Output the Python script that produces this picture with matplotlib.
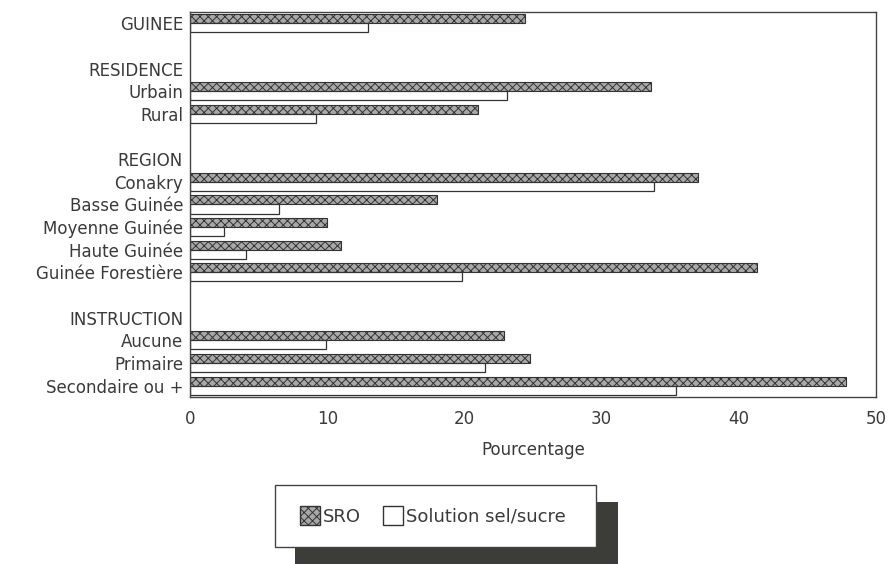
import matplotlib
matplotlib.use('Agg')
import matplotlib.pyplot as plt
from matplotlib.patches import Rectangle, Patch

plt.rcParams['font.family'] = ['DejaVu Sans']
plt.rcParams['hatch.linewidth'] = 0.7

# rows of the chart, top to bottom ("" = blank spacer row, headings have no bars)
labels = ["GUINEE", "", "RESIDENCE", "Urbain", "Rural", "", "REGION",
          "Conakry", "Basse Guinée", "Moyenne Guinée", "Haute Guinée",
          "Guinée Forestière", "", "INSTRUCTION", "Aucune", "Primaire",
          "Secondaire ou +"]
sro = [24.4, None, None, 33.6, 21.0, None, None,
       37.0, 18.0, 10.0, 11.0, 41.3, None, None, 22.9, 24.8, 47.8]
sel_sucre = [13.0, None, None, 23.1, 9.2, None, None,
             33.8, 6.5, 2.5, 4.1, 19.8, None, None, 9.9, 21.5, 35.4]
xticks = [0, 10, 20, 30, 40, 50]

text_col = '#3a3a3a'
fs = 12

fig = plt.figure(figsize=(8.88, 5.64), dpi=100)
ax = fig.add_axes([190 / 888, 1 - 397 / 564, 686 / 888, 385 / 564])

h = 0.4
for i, (a, b) in enumerate(zip(sro, sel_sucre)):
    if a is not None:
        ax.barh(i - h / 2, a, height=h, facecolor='#a8a8a8', edgecolor='#333333',
                hatch='xxxx', linewidth=0.8)
    if b is not None:
        ax.barh(i + h / 2, b, height=h, facecolor='white', edgecolor='#333333',
                linewidth=0.9)

ax.set_xlim(0, 50)
ax.set_ylim(len(labels) - 0.5, -0.5)
ax.set_yticks(range(len(labels)))
ax.set_yticklabels(labels, fontsize=fs, color=text_col)
ax.set_xticks(xticks)
ax.set_xticklabels([str(t) for t in xticks], fontsize=fs, color=text_col)
ax.tick_params(length=0, pad=5)
ax.tick_params(axis='x', pad=9)
ax.set_xlabel("Pourcentage", fontsize=fs, color=text_col, labelpad=10)
for s in ax.spines.values():
    s.set_color('#444444')
    s.set_linewidth(1.0)

# legend box with dark drop shadow
fig.patches.append(Rectangle((295 / 888, 0), 323 / 888, 62 / 564,
                             transform=fig.transFigure, facecolor='#3c3c38',
                             edgecolor='none', zorder=0))
fig.patches.append(Rectangle((275 / 888, 1 - 547 / 564), 321 / 888, 62 / 564,
                             transform=fig.transFigure, facecolor='white',
                             edgecolor='#444444', linewidth=1.0, zorder=1))
handles = [Patch(facecolor='#a8a8a8', edgecolor='#333333', hatch='xxxx', label='SRO'),
           Patch(facecolor='white', edgecolor='#333333', label='Solution sel/sucre')]
leg = fig.legend(handles=handles, loc='center',
                 bbox_to_anchor=(433 / 888, 1 - 516 / 564), ncol=2,
                 frameon=False, fontsize=13, handlelength=1.1, handleheight=1.2,
                 handletextpad=0.2, columnspacing=1.2)
leg.set_zorder(3)
for t in leg.get_texts():
    t.set_color(text_col)

fig.savefig('out.png', dpi=100, facecolor='white')
